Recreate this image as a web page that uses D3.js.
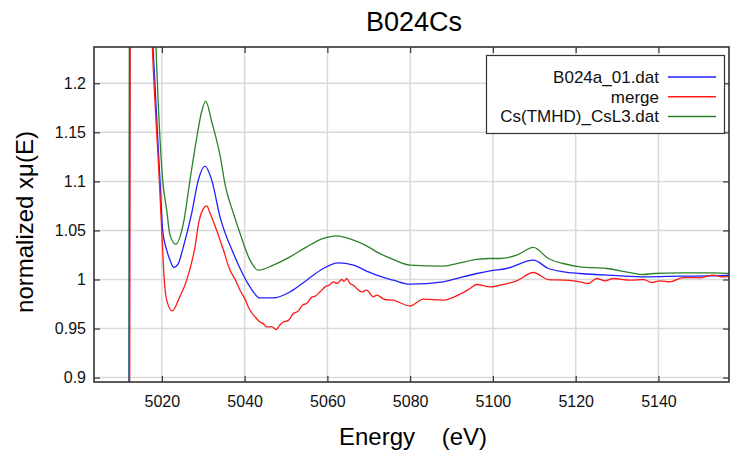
<!DOCTYPE html>
<html>
<head>
<meta charset="utf-8">
<title>B024Cs</title>
<script src="https://d3js.org/d3.v7.min.js"></script>
<style>
body { margin: 0; background: #fff; }
text { font-family: "Liberation Sans", Arial, sans-serif; }
</style>
</head>
<body>
<script>
// energies (eV) and normalized values
var blueE = [5012.1, 5012.3, 5015.0, 5017.6, 5017.86, 5019.55, 5020.2, 5021.17, 5021.97, 5022.93, 5023.9, 5025.2, 5027.2, 5028.8, 5030.4, 5032.05, 5034.05, 5037.3, 5038.9, 5041.3, 5043.7, 5046.9, 5050.97, 5055.0, 5059.0, 5062.6, 5066.3, 5069.9, 5071.9, 5075.9, 5079.97, 5088.0, 5092.05, 5096.1, 5099.3, 5103.3, 5109.8, 5113.4, 5117.0, 5121.05, 5129.1, 5137.2, 5145.3, 5153.3, 5157.3];
var blueV = [0.80, 1.45, 1.50, 1.26, 1.237, 1.101, 1.050, 1.030, 1.0197, 1.0122, 1.0156, 1.0333, 1.0673, 1.1013, 1.1156, 1.1013, 1.0639, 1.0265, 1.0112, 0.9924, 0.9812, 0.9812, 0.9873, 0.9993, 1.0112, 1.0169, 1.0146, 1.0078, 1.0044, 0.9993, 0.9952, 0.9976, 1.0020, 1.0061, 1.0088, 1.0112, 1.0197, 1.0112, 1.0078, 1.0061, 1.0041, 1.0027, 1.0034, 1.0037, 1.0044];

var redE = [5012.2, 5012.4, 5015.0, 5017.4, 5017.7, 5019.38, 5019.96, 5020.59, 5021.17, 5022.52, 5024.2, 5026.0, 5028.0, 5029.0, 5030.0, 5030.84, 5031.6, 5033.25, 5034.8, 5036.47, 5037.6, 5038.88, 5040.1, 5040.9, 5041.3, 5042.5, 5043.7, 5044.5, 5045.3, 5046.5, 5047.6, 5048.4, 5049.35, 5050.5, 5051.76, 5053.0, 5054.0, 5055.0, 5056.2, 5057.1, 5058.2, 5059.6, 5060.4, 5061.4, 5062.4, 5063.46, 5064.0, 5064.67, 5065.47, 5066.3, 5067.1, 5068.3, 5069.5, 5070.3, 5071.1, 5071.9, 5073.9, 5075.9, 5079.97, 5083.2, 5088.0, 5092.05, 5094.5, 5096.1, 5099.3, 5101.7, 5105.75, 5109.8, 5113.4, 5117.0, 5121.05, 5123.05, 5125.1, 5127.1, 5129.1, 5133.1, 5136.35, 5138.4, 5140.4, 5142.8, 5146.0, 5150.1, 5153.3, 5155.7, 5157.3];
var redV = [0.80, 1.45, 1.50, 1.27, 1.237, 1.101, 1.050, 0.9993, 0.979, 0.968, 0.981, 0.9993, 1.033, 1.060, 1.072, 1.075, 1.068, 1.050, 1.031, 1.0095, 1.001, 0.989, 0.980, 0.972, 0.9687, 0.962, 0.9567, 0.955, 0.9516, 0.952, 0.9490, 0.953, 0.9567, 0.958, 0.9653, 0.968, 0.974, 0.9755, 0.982, 0.983, 0.9873, 0.993, 0.994, 0.9976, 0.996, 1.0000, 0.998, 1.0010, 0.9959, 0.994, 0.9908, 0.9873, 0.9891, 0.9857, 0.9822, 0.9840, 0.9796, 0.9789, 0.9730, 0.9799, 0.9789, 0.9850, 0.9908, 0.9949, 0.9924, 0.9942, 0.9986, 1.0071, 0.9999, 0.9993, 0.9976, 0.9959, 1.0010, 0.9986, 1.0010, 0.9993, 1.0000, 0.9969, 0.9986, 0.9976, 1.0020, 1.0017, 1.0044, 1.0027, 1.0034];

var greenE = [5012.0, 5012.2, 5015.5, 5018.3, 5018.58, 5020.2, 5021.17, 5021.97, 5023.34, 5025.2, 5026.8, 5028.4, 5029.6, 5030.6, 5032.05, 5034.05, 5035.3, 5037.3, 5038.9, 5041.3, 5043.3, 5046.9, 5050.97, 5055.0, 5059.0, 5062.25, 5066.3, 5069.9, 5071.9, 5075.9, 5079.97, 5088.0, 5092.05, 5096.1, 5099.3, 5101.7, 5105.75, 5109.8, 5113.4, 5117.0, 5121.05, 5127.5, 5133.1, 5136.35, 5138.8, 5145.3, 5153.3, 5157.3];
var greenV = [0.80, 1.45, 1.55, 1.27, 1.237, 1.101, 1.0707, 1.0452, 1.036, 1.0571, 1.1013, 1.1439, 1.1710, 1.1819, 1.1608, 1.1268, 1.0962, 1.0673, 1.0469, 1.0197, 1.0095, 1.0146, 1.0231, 1.0333, 1.0418, 1.0445, 1.0401, 1.0333, 1.0282, 1.0204, 1.0146, 1.0136, 1.0169, 1.0204, 1.0214, 1.0214, 1.0248, 1.0327, 1.0214, 1.0163, 1.0129, 1.0112, 1.0071, 1.0051, 1.0061, 1.0067, 1.0067, 1.0061];

var seriesNames = ["B024a_01.dat", "merge", "Cs(TMHD)_CsL3.dat"];
var seriesColors = ["#2020ff", "#ff1a1a", "#2b822b"];
var xTicks = [5020, 5040, 5060, 5080, 5100, 5120, 5140];
var yTicks = [0.9, 0.95, 1, 1.05, 1.1, 1.15, 1.2];

var W = 730, H = 451;
var pL = 94, pR = 729, pT = 47, pB = 382;

var x = d3.scaleLinear().domain([5003.6, 5157.05]).range([pL, pR]);
var y = d3.scaleLinear().domain([0.8955, 1.237]).range([pB, pT]);

var svg = d3.select("body").append("svg")
	.attr("width", W)
	.attr("height", H);

svg.append("defs").append("clipPath").attr("id", "clip")
	.append("rect")
	.attr("x", pL).attr("y", pT)
	.attr("width", pR - pL).attr("height", pB - pT);

// grid
var grid = svg.append("g").attr("stroke", "#dadada").attr("stroke-width", 1.5);
xTicks.forEach(function(t) {
	grid.append("line").attr("x1", x(t)).attr("x2", x(t)).attr("y1", pT).attr("y2", pB);
});
yTicks.forEach(function(t) {
	grid.append("line").attr("x1", pL).attr("x2", pR).attr("y1", y(t)).attr("y2", y(t));
});

// curves
var line = d3.line()
	.curve(d3.curveMonotoneX)
	.x(function(d) { return x(d[0]); })
	.y(function(d) { return y(d[1]); });

var series = [
	d3.zip(blueE, blueV),
	d3.zip(redE, redV),
	d3.zip(greenE, greenV)
];
var plot = svg.append("g").attr("clip-path", "url(#clip)");
// draw green first, then blue, then red on top
[2, 0, 1].forEach(function(i) {
	plot.append("path")
		.datum(series[i])
		.attr("d", line)
		.attr("fill", "none")
		.attr("stroke", seriesColors[i])
		.attr("stroke-width", 1.3);
});

// axes, ticks pointing inward
function styleAxis(g) {
	g.select(".domain").remove();
	g.selectAll(".tick line").attr("stroke", "#333").attr("stroke-width", 1.2);
	g.selectAll(".tick text").attr("fill", "#111").style("font-size", "16px")
		.style("font-family", "'Liberation Sans', Arial, sans-serif");
}
var fmtY = function(d) { return d3.format("")(+d.toFixed(2)); };

svg.append("g")
	.attr("transform", "translate(0," + pB + ")")
	.call(d3.axisBottom(x).tickValues(xTicks).tickSize(-6).tickPadding(14).tickFormat(d3.format("d")))
	.call(styleAxis);
svg.append("g")
	.attr("transform", "translate(0," + pT + ")")
	.call(d3.axisTop(x).tickValues(xTicks).tickSize(-6).tickFormat(""))
	.call(styleAxis);
svg.append("g")
	.attr("transform", "translate(" + pL + ",0)")
	.call(d3.axisLeft(y).tickValues(yTicks).tickSize(-6).tickPadding(8).tickFormat(fmtY))
	.call(styleAxis);
svg.append("g")
	.attr("transform", "translate(" + pR + ",0)")
	.call(d3.axisRight(y).tickValues(yTicks).tickSize(-6).tickFormat(""))
	.call(styleAxis);

// frame
svg.append("rect")
	.attr("x", pL).attr("y", pT)
	.attr("width", pR - pL).attr("height", pB - pT)
	.attr("fill", "none").attr("stroke", "#333").attr("stroke-width", 1.6);

// titles
svg.append("text")
	.attr("x", 414).attr("y", 31)
	.attr("text-anchor", "middle")
	.style("font-size", "27px")
	.text("B024Cs");

svg.append("text")
	.attr("x", 413).attr("y", 445)
	.attr("text-anchor", "middle")
	.style("font-size", "24px")
	.style("white-space", "pre")
	.text("Energy    (eV)");

svg.append("text")
	.attr("transform", "translate(33,222) rotate(-90)")
	.attr("text-anchor", "middle")
	.style("font-size", "24px")
	.text("normalized xμ(E)");

// legend
var leg = svg.append("g");
leg.append("rect")
	.attr("x", 486.5).attr("y", 55.5)
	.attr("width", 238).attr("height", 78)
	.attr("fill", "#fff").attr("stroke", "#333").attr("stroke-width", 1.2);
seriesNames.forEach(function(name, i) {
	var yy = 77 + i * 19.7;
	leg.append("text")
		.attr("x", 659).attr("y", yy + 6)
		.attr("text-anchor", "end")
		.style("font-size", "17px")
		.attr("fill", "#111")
		.text(name);
	leg.append("line")
		.attr("x1", 668).attr("x2", 716)
		.attr("y1", yy).attr("y2", yy)
		.attr("stroke", seriesColors[i]).attr("stroke-width", 1.5);
});
</script>
</body>
</html>
